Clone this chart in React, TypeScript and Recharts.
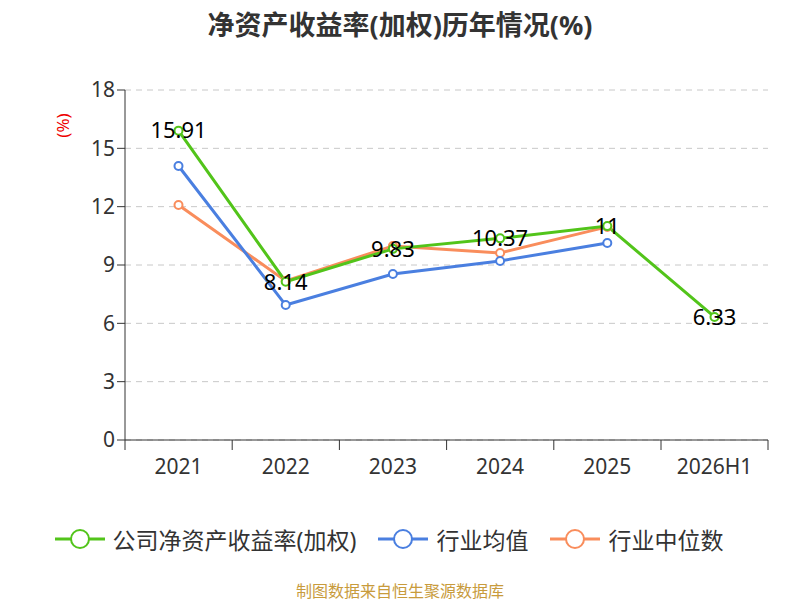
import { CartesianGrid, LabelList, Line, LineChart, XAxis, YAxis } from "recharts";

const years = ["2021", "2022", "2023", "2024", "2025", "2026H1"];
const company = [15.91, 8.14, 9.83, 10.37, 11, 6.33];
const industryAvg = [14.09, 6.94, 8.54, 9.21, 10.13, null];
const industryMedian = [12.09, 8.18, 9.98, 9.62, 10.96, null];
const yTicks = [0, 3, 6, 9, 12, 15, 18];

const GREEN = "#52c41a";
const BLUE = "#4a7fe0";
const ORANGE = "#f98d5c";
const FONT = "'Noto Sans', 'Noto Sans CJK SC', sans-serif";

const rows = years.map((y, i) => ({
  year: y,
  company: company[i],
  avg: industryAvg[i],
  median: industryMedian[i],
}));

function XTick(props: any) {
  const { x, y, payload } = props;
  const half = 53.5;
  return (
    <g>
      <line x1={x - half} y1={y - 8} x2={x - half} y2={y + 2} stroke="#333" />
      {payload.index === years.length - 1 && (
        <line x1={x + half} y1={y - 8} x2={x + half} y2={y + 2} stroke="#333" />
      )}
      <text x={x} y={y + 26} textAnchor="middle" fill="#333" fontSize={21} fontFamily={FONT}>
        {payload.value}
      </text>
    </g>
  );
}

function LegendItem({ color, label }: { color: string; label: string }) {
  return (
    <div style={{ display: "flex", alignItems: "center", marginRight: 22 }}>
      <svg width={50} height={24}>
        <line x1={0} y1={12} x2={50} y2={12} stroke={color} strokeWidth={3} />
        <circle cx={25} cy={12} r={9} fill="#fff" stroke={color} strokeWidth={2} />
      </svg>
      <span style={{ marginLeft: 8, fontSize: 23, color: "#333" }}>{label}</span>
    </div>
  );
}

export default function App() {
  return (
    <div style={{ position: "absolute", left: 0, top: 0, width: 800, height: 600, background: "#fff", fontFamily: FONT }}>
      <div style={{ position: "absolute", top: 4, width: 800, textAlign: "center", fontSize: 27, fontWeight: "bold", color: "#333" }}>
        净资产收益率(加权)历年情况(%)
      </div>
      <div style={{ position: "absolute", left: 50, top: 114, color: "#e00", fontSize: 17, transform: "rotate(-90deg)", transformOrigin: "center" }}>
        (%)
      </div>
      <LineChart width={800} height={600} data={rows} margin={{ top: 90, right: 32, left: 0, bottom: 130 }}>
        <CartesianGrid vertical={false} stroke="#c8c8c8" strokeDasharray="6 5" />
        <XAxis
          dataKey="year"
          height={30}
          padding={{ left: 53.5, right: 53.5 }}
          tick={<XTick />}
          tickLine={false}
          axisLine={{ stroke: "#333" }}
        />
        <YAxis
          width={125}
          domain={[0, 18]}
          ticks={yTicks}
          tick={{ fill: "#333", fontSize: 21, fontFamily: FONT }}
          tickLine={{ stroke: "#333" }}
          tickSize={8}
          axisLine={{ stroke: "#333" }}
        />
        <Line dataKey="median" stroke={ORANGE} strokeWidth={3} dot={{ r: 4, fill: "#fff", stroke: ORANGE, strokeWidth: 2 }} isAnimationActive={false} />
        <Line dataKey="avg" stroke={BLUE} strokeWidth={3} dot={{ r: 4, fill: "#fff", stroke: BLUE, strokeWidth: 2 }} isAnimationActive={false} />
        <Line dataKey="company" stroke={GREEN} strokeWidth={3} dot={{ r: 4, fill: "#fff", stroke: GREEN, strokeWidth: 2 }} isAnimationActive={false}>
          <LabelList dataKey="company" position="center" fill="#000" fontSize={22} fontFamily={FONT} />
        </Line>
      </LineChart>
      <div style={{ position: "absolute", top: 522, width: 800, display: "flex", justifyContent: "center" }}>
        <LegendItem color={GREEN} label="公司净资产收益率(加权)" />
        <LegendItem color={BLUE} label="行业均值" />
        <LegendItem color={ORANGE} label="行业中位数" />
      </div>
      <div style={{ position: "absolute", top: 578, width: 800, textAlign: "center", fontSize: 16, color: "#c89b3c" }}>
        制图数据来自恒生聚源数据库
      </div>
    </div>
  );
}
